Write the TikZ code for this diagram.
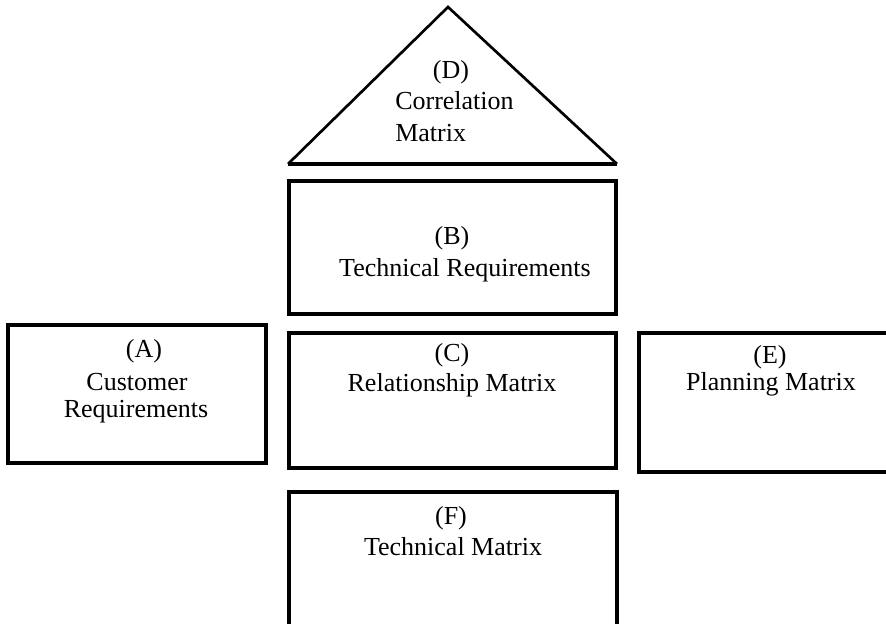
\documentclass[tikz,border=0pt]{standalone}
\usepackage{fontspec}
\setmainfont{Liberation Serif}
\begin{document}
\begin{tikzpicture}[x=0.75pt,y=-0.75pt,
  block/.style={draw,line width=2.3pt,rectangle,inner sep=0pt},
  lbl/.style={font=\fontsize{19.5}{23}\selectfont,inner sep=0pt,anchor=center}]
\useasboundingbox (0,0) rectangle (886,624);
% roof: correlation matrix
\coordinate (apex) at (448,7);
\coordinate (roofL) at (288,164);
\coordinate (roofR) at (617,164);
\draw[line width=2pt,line join=miter] (roofL) -- (apex) -- (roofR);
\draw[line width=2.6pt] (roofL) -- (roofR);
\node[lbl] (dA) at (451,72) {(D)};
\node[lbl,anchor=west] (dB) at (395,101) {Correlation};
\node[lbl,anchor=west] (dC) at (395,133) {Matrix};
% technical requirements
\node[block,minimum width=327*0.75pt,minimum height=133*0.75pt] (B) at (452.5,247.5) {};
\node[lbl] (bA) at (452,238) {(B)};
\node[lbl] (bB) at (465,270) {Technical Requirements};
% relationship matrix
\node[block,minimum width=327*0.75pt,minimum height=135*0.75pt] (C) at (452.5,400.5) {};
\node[lbl] (cA) at (452,355) {(C)};
\node[lbl] (cB) at (452,385) {Relationship Matrix};
% customer requirements
\node[block,minimum width=258*0.75pt,minimum height=138*0.75pt] (A) at (137,394) {};
\node[lbl] (aA) at (144,351) {(A)};
\node[lbl] (aB) at (137,382) {Customer};
\node[lbl] (aC) at (136,412) {Requirements};
% planning matrix (runs past the right margin)
\node[block,minimum width=270*0.75pt,minimum height=139*0.75pt] (E) at (774,402.5) {};
\node[lbl] (eA) at (770,357) {(E)};
\node[lbl] (eB) at (771,384) {Planning Matrix};
% technical matrix
\node[block,minimum width=328*0.75pt,minimum height=150*0.75pt] (F) at (453,567) {};
\node[lbl] (fA) at (451,518) {(F)};
\node[lbl] (fB) at (453,547) {Technical Matrix};
\end{tikzpicture}
\end{document}
